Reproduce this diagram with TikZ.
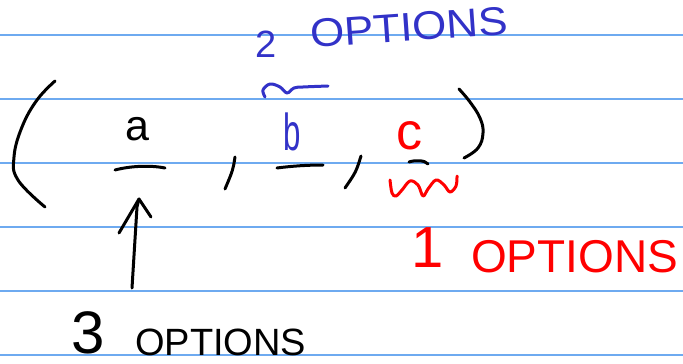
\documentclass[tikz,border=0pt]{standalone}
\usepackage{fontspec}
\setmainfont{Liberation Sans}
\definecolor{rulecol}{RGB}{110,170,240}
\definecolor{inkblue}{RGB}{50,50,200}
\definecolor{inkred}{RGB}{255,0,0}
\tikzset{
  ink/.style={line width=3pt,line cap=round,line join=round},
  ruled/.style={draw=rulecol,line width=1.3pt},
  txt/.style={inner sep=0pt,anchor=base west},
  ctxt/.style={inner sep=0pt,anchor=base}
}
\newcommand{\fsz}[1]{\fontsize{#1}{#1}\selectfont}
\begin{document}
\begin{tikzpicture}[x=1pt,y=-1pt]
\useasboundingbox (0,0) rectangle (683,364);
\fill[white] (0,0) rectangle (683,364);
\foreach \yy in {35,99,163,227,291,355} \draw[ruled] (0,\yy) -- (683,\yy);

% texts
\node[txt,text=inkblue] (two) at (255,57) {\fsz{38}2};
\node[txt,text=inkblue,rotate=4,xscale=1.1] (opt2) at (311,48) {\fsz{40}OPTIONS};
\node[ctxt,text=inkred] (one) at (428,267) {\fsz{58}1};
\node[txt,text=inkred] (opt1) at (471,272) {\fsz{46}OPTIONS};
\node[ctxt] (three) at (88,353) {\fsz{60}3};
\node[txt] (opt3) at (135,355) {\fsz{38}OPTIONS};

\node[ctxt] (a) at (137,140) {\fsz{43}a};
\node[ctxt,text=inkblue,xscale=0.6] (b) at (292,150) {\fsz{52}b};
\node[ctxt,text=inkred] (c) at (409,149) {\fsz{52}c};

% parentheses
\draw[ink] plot[smooth,tension=0.7] coordinates {(55,81) (37,100) (22,127) (14,157) (18,180) (45,207)};
\draw[ink] plot[smooth,tension=0.7] coordinates {(459,89) (470,102) (480,118) (483,133) (478,148) (464,158)};

% blanks
\draw[ink] (115,170) .. controls (130,166) and (150,165) .. (165,168);
\draw[ink] (277,168) .. controls (292,166) and (308,165) .. (323,165);
\draw[ink] (409,162) .. controls (415,160) and (425,160) .. (428,164);

% commas
\draw[ink] (235,157) .. controls (233,170) .. (225,189);
\draw[ink] (361,156) .. controls (356,172) .. (345,188);

% blue tilde
\draw[ink,draw=inkblue] plot[smooth,tension=0.6] coordinates {(265,97) (263,90) (270,84) (280,87) (287,93) (294,88) (303,87) (328,86)};
% red wave
\draw[ink,draw=inkred] plot[smooth,tension=0.6] coordinates {(390,180) (392,193) (396,196) (402,190) (410,181) (418,185) (423,196) (428,189) (436,180) (444,185) (450,192) (456,186) (457,176)};

% arrow
\coordinate (arrbot) at (132,288);
\coordinate (arrtip) at (139,199);
\draw[ink] (arrbot) -- (137,207) -- (arrtip);
\draw[ink] (119,233) -- (arrtip) -- (151,217);
\end{tikzpicture}
\end{document}
